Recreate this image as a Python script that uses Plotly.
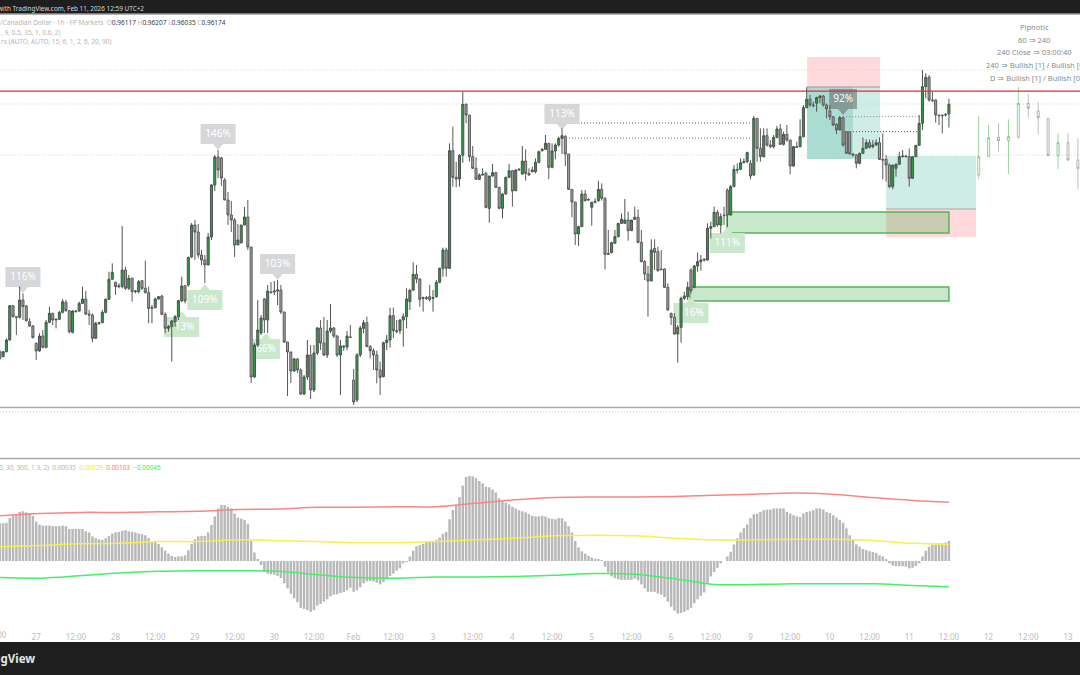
import plotly.graph_objects as go

# %% data, prices in points (1e-5)
open_pts = [94690,94660,94690,94760,94966,94900,94896,95000,94964,94870,94844,94740,94694,94784,94716,94866,94920,94880,94884,94926,
94986,94936,94806,94934,94934,94980,95006,94916,94910,94770,94860,94864,94926,95004,95124,95106,95080,95080,95180,95070,
95130,95050,95050,95116,95070,95044,94950,94954,95006,95024,94914,94830,94840,94870,94900,94994,95086,95090,95258,95450,
95408,95270,95240,95210,95378,95690,95858,95852,95720,95600,95510,95480,95330,95342,95450,95498,95318,94538,94730,94802,
95006,94880,95048,95048,95054,95060,94928,94748,94688,94574,94646,94580,94436,94538,94670,94460,94682,94832,94742,94670,
94814,94832,94784,94670,94724,94718,94778,94520,94400,94670,94830,94864,94720,94696,94670,94580,94540,94744,94760,94906,
94816,94816,94880,94900,94990,95060,95154,95126,95010,95014,95020,95010,95020,95106,95190,95300,95190,95896,95736,95726,
95868,96174,96110,95860,95790,95724,95750,95760,95550,95744,95764,95676,95550,95636,95736,95776,95656,95780,95756,95834,
95760,95770,95770,95826,95896,95904,95940,95796,95894,95930,95970,95980,95876,95664,95588,95396,95440,95636,95604,95556,
95586,95596,95664,95610,95280,95284,95340,95380,95460,95460,95480,95416,95484,95496,95346,95230,95156,95114,95310,95290,
95186,95186,95076,94920,94896,94796,94836,95010,95020,95180,95076,95204,95230,95240,95240,95430,95440,95526,95450,95510,
95660,95510,95680,95784,95784,95824,95830,95820,95750,96090,95910,95860,95986,95930,95920,95976,96026,95934,95994,95960,
95804,95920,95920,95980,96154,96204,96170,96180,96214,96224,96170,96134,96100,96054,96020,96094,96010,96010,95876,95870,
95820,95880,95910,95944,95920,95930,95944,95844,95844,95810,95680,95790,95814,95860,95864,95860,95730,95860,95928,96060,
96280,96336,96200,96200,96110,96110,96110,96117]
high_pts = [94700,94694,94770,94970,94970,94900,95080,95040,94970,94890,94850,94746,94800,94820,94880,94960,94924,94890,94934,95006,
95000,94940,94940,94940,94990,95080,95054,94940,94920,94870,94864,94940,95010,95170,95220,95110,95100,95444,95200,95150,
95134,95060,95120,95120,95236,95080,94970,95014,95024,95030,94926,94850,94880,94910,95000,95140,95090,95260,95462,95480,
95456,95300,95270,95402,95696,95870,95900,95858,95732,95648,95594,95492,95456,95450,95558,95600,95318,94742,95000,94910,
95012,95090,95108,95114,95120,95090,94928,94750,94690,94652,94652,94590,94550,94760,94730,94730,94838,94880,94898,94880,
94976,94838,94790,94760,94730,94814,94850,94586,94682,94844,94880,94900,94730,94710,94696,94630,94750,94790,94954,94954,
94880,94884,94920,95070,95060,95226,95210,95130,95020,95024,95090,95060,95120,95194,95314,95314,95940,96040,95830,95876,
96250,96180,96110,95924,95856,95760,95790,95770,95744,95816,95770,95676,95640,95740,95816,95780,95784,95790,95924,95904,
95790,95800,95850,95896,95910,95990,95940,95940,95940,95980,96030,95990,95876,95664,95588,95446,95660,95660,95610,95590,
95610,95716,95700,95616,95420,95350,95420,95460,95520,95606,95530,95480,95560,95544,95420,95240,95204,95364,95364,95320,
95300,95190,95100,94924,94920,94850,95020,95050,95110,95190,95210,95284,95270,95250,95460,95470,95560,95540,95520,95560,
95670,95690,95810,95820,95850,95850,95890,95840,96104,96090,96030,96030,96030,95960,95990,96044,96056,96010,96050,95960,
95924,95950,96084,96170,96276,96230,96190,96220,96230,96230,96180,96170,96104,96060,96104,96100,96014,96010,95880,95876,
95884,95976,95964,95964,95960,95964,95976,96000,95870,95820,95810,95820,95890,95900,95870,95910,95860,95930,96110,96380,
96360,96350,96250,96204,96110,96110,96120,96207]
low_pts = [94640,94660,94686,94756,94896,94790,94890,94880,94870,94840,94770,94640,94690,94710,94710,94860,94850,94830,94880,94920,
94930,94800,94800,94926,94930,94976,94910,94850,94746,94766,94850,94860,94920,95000,95120,95030,95070,95070,95060,95060,
94990,95040,95040,95060,95040,94860,94860,94950,95002,94910,94800,94810,94630,94840,94880,94990,94980,95080,95252,95240,
95252,95210,95102,95210,95360,95654,95732,95684,95600,95450,95408,95258,95330,95342,95450,95300,94502,94532,94718,94790,
94802,94802,95042,95030,94970,94916,94742,94424,94502,94568,94562,94430,94430,94520,94406,94448,94670,94700,94664,94652,
94802,94772,94658,94430,94694,94700,94772,94370,94388,94658,94800,94720,94650,94580,94500,94430,94536,94700,94714,94770,
94800,94796,94720,94830,94940,95054,95100,94960,94930,95000,94990,94930,95014,95100,95140,95140,95186,95680,95676,95680,
95824,96060,95830,95786,95720,95720,95746,95550,95464,95740,95672,95546,95490,95632,95732,95560,95654,95776,95750,95716,
95746,95766,95760,95820,95890,95900,95726,95790,95844,95920,95876,95804,95660,95496,95330,95324,95440,95590,95596,95446,
95580,95590,95596,95184,95270,95280,95340,95376,95456,95456,95356,95414,95480,95340,95226,95120,94900,95114,95180,95170,
95180,95072,94936,94850,94792,94624,94744,95000,95000,95040,95070,95170,95176,95230,95236,95370,95440,95440,95400,95450,
95440,95506,95680,95760,95780,95820,95820,95724,95744,95830,95830,95856,95920,95910,95910,95970,95930,95926,95950,95754,
95800,95916,95916,95976,96150,96160,96156,96130,96180,96160,96090,96080,96044,95996,96020,95920,95876,95874,95860,95790,
95814,95876,95906,95910,95910,95926,95840,95724,95710,95670,95664,95740,95810,95856,95856,95680,95726,95856,95924,96020,
96210,96190,96190,96064,96050,96000,96100,96035]
close_pts = [94650,94690,94760,94966,94900,94896,95000,94960,94876,94844,94774,94694,94784,94716,94866,94920,94880,94884,94926,94990,
94936,94810,94934,94930,94980,95006,94916,94910,94770,94860,94864,94926,95004,95124,95166,95080,95084,95180,95070,95130,
95050,95054,95110,95070,95044,94950,94954,95006,95020,94914,94830,94840,94874,94900,94996,95084,94994,95256,95450,95408,
95270,95240,95210,95378,95690,95858,95780,95732,95600,95510,95480,95330,95360,95450,95498,95318,94538,94730,94820,94892,
94880,95054,95044,95054,95060,94928,94748,94688,94574,94646,94580,94436,94538,94670,94460,94682,94832,94742,94670,94814,
94832,94784,94670,94724,94718,94784,94776,94388,94670,94832,94864,94720,94696,94670,94580,94536,94744,94760,94906,94816,
94810,94880,94900,95006,95060,95154,95126,95004,95014,95010,95004,95014,95106,95190,95300,95190,95896,95736,95726,95868,
96174,96110,95860,95790,95724,95750,95754,95556,95744,95764,95676,95550,95636,95736,95776,95654,95780,95784,95834,95760,
95750,95780,95826,95890,95904,95940,95796,95894,95930,95970,95986,95876,95664,95588,95396,95440,95636,95596,95600,95586,
95590,95664,95610,95274,95274,95344,95380,95460,95484,95480,95416,95480,95496,95346,95230,95156,95114,95300,95286,95176,
95182,95076,94940,94896,94796,94836,95010,95024,95076,95056,95204,95230,95240,95244,95430,95440,95526,95450,95500,95506,
95510,95680,95784,95780,95824,95830,95884,95744,96090,95910,95860,95986,95930,95920,95976,96026,95934,95994,95960,95804,
95920,95916,95980,96154,96204,96170,96166,96214,96224,96170,96146,96100,96050,96020,96094,95930,95880,95876,95870,95820,
95880,95910,95944,95916,95930,95944,95844,95840,95810,95680,95810,95814,95860,95864,95860,95730,95860,95928,96060,96280,
96336,96200,96196,96110,96106,96106,96114,96174]

# projected bars right of the last candle
ghost_up_x = [296, 299, 305, 308, 320]
ghost_up_open = [95750, 95860, 95956, 95976, 95866]
ghost_up_high = [96104, 96050, 96084, 96280, 96000]
ghost_up_low = [95724, 95860, 95756, 95970, 95786]
ghost_up_close = [95860, 95974, 95980, 96180, 95944]
ghost_dn_x = [302, 311, 314, 317, 323, 326]
ghost_dn_open = [95976, 96180, 96134, 96090, 95944, 95840]
ghost_dn_high = [96060, 96236, 96186, 96090, 96000, 95970]
ghost_dn_low = [95890, 96094, 95996, 95866, 95836, 95664]
ghost_dn_close = [95956, 96150, 96094, 95866, 95840, 95790]

# oscillator, in 1e-5
hist_vals = [66,66,67,75,79,82,86,87,85,83,79,69,64,62,62,62,61,61,61,62,61,56,56,56,56,56,52,50,43,40,38,37,40,44,48,50,51,53,54,52,
51,50,48,47,45,40,35,33,30,24,18,13,9,7,8,8,10,19,30,38,43,44,44,50,63,78,92,98,98,95,92,83,76,74,72,65,35,15,2,-7,
-19,-22,-23,-24,-26,-30,-39,-48,-57,-65,-72,-82,-84,-86,-89,-86,-78,-75,-71,-67,-62,-59,-58,-56,-54,-51,-47,-54,-51,-46,-39,-36,-35,-36,-38,-41,-37,-31,-26,-22,
-17,-13,-4,-1,8,18,26,28,30,33,34,35,37,41,48,51,73,89,98,112,132,147,149,148,145,140,136,130,129,125,120,110,105,102,99,95,92,89,87,85,
82,79,78,78,79,78,75,74,73,75,75,69,61,50,35,24,17,13,9,6,4,2,1,-10,-20,-27,-30,-32,-33,-33,-33,-33,-31,-34,-41,-48,-54,-54,-54,-57,
-59,-63,-71,-80,-87,-92,-91,-89,-86,-82,-74,-67,-61,-55,-39,-27,-19,-12,-4,0,8,16,29,40,50,58,64,75,82,83,86,89,90,90,92,92,92,92,86,83,
80,78,77,83,86,87,89,92,92,90,86,84,80,76,72,67,57,45,37,29,25,21,19,17,16,14,10,8,3,-4,-8,-9,-9,-9,-10,-13,-12,-9,-4,8,
18,25,28,31,31,31,32,35]
line_knots = [0,12,24,36,48,60,72,84,96,108,120,132,144,156,168,180,192,204,216,228,240,252,264,276,287]
upper_band = [79,83,85,85,86,87,90,91,94,94,95,95,101,107,111,112,112,113,115,117,119,117,111,106,103]
signal_line = [25,27,30,31,34,34,37,36,34,32,32,34,37,40,44,45,44,40,37,37,38,38,36,31,29]
lower_band = [-29,-30,-26,-21,-18,-17,-17,-18,-24,-29,-30,-28,-28,-27,-25,-22,-23,-31,-41,-41,-40,-40,-40,-43,-45]

# x axis
tick_bars = [11,23,35,47,59,71,83,95,107,119,131,143,155,167,179,191,203,215,227,239,251,263,275,287,299,311,323]
tick_labels = ["27","12:00","28","12:00","29","12:00","30","12:00","Feb","12:00","3","12:00","4","12:00","5","12:00",
               "6","12:00","9","12:00","10","12:00","11","12:00","12","12:00","13"]

# percent labels
up_label_bars = [7, 66, 84, 170, 255]
up_label_tips = [95042, 95900, 95120, 96020, 96110]
up_label_text = ["116%", "146%", "103%", "113%", "92%"]
dn_label_bars = [62, 55, 80.5, 220, 209]
dn_label_tips = [95096, 94934, 94802, 95438, 95018]
dn_label_text = ["109%", "113%", "66%", "111%", "116%"]

# %% helpers
W, H = 1080, 675
X_RANGE = [0.054, 326.64]

def py(y):
    return 1 - y / H

def px(x):
    return x / W

def p(v):
    return [a / 1e5 for a in v]

shapes = []
FINE_DOT = "1px,2px"

def band(y0, y1, color):
    shapes.append(dict(type="rect", xref="paper", yref="paper", x0=0, x1=1, y0=py(y0), y1=py(y1),
                       fillcolor=color, line_width=0, layer="below"))

def rule(y, color, dash="solid", width=1):
    shapes.append(dict(type="line", xref="paper", yref="paper", x0=0, x1=1, y0=py(y), y1=py(y),
                       line=dict(color=color, width=width, dash=dash), layer="above"))

def zone(x0, x1, y0, y1, fill, line=None):
    shapes.append(dict(type="rect", xref="x", yref="y", x0=x0, x1=x1, y0=y0 / 1e5, y1=y1 / 1e5, fillcolor=fill,
                       line=dict(color=line or fill, width=1.5 if line else 0), layer="below"))

def price_line(x0, x1, y, color, dash=FINE_DOT, width=1, layer="below"):
    shapes.append(dict(type="line", xref="x", yref="y", x0=x0, x1=x1, y0=y / 1e5, y1=y / 1e5,
                       line=dict(color=color, width=width, dash=dash), layer=layer))

def label_box(bar, tip, up, color, chars):
    # box sits 36 points off the pointer tip, 120 tall, width follows the text
    s = 1 if up else -1
    half = 5.3 if chars == 4 else 4.2
    near, far = tip + s * 36, tip + s * 156
    x0, x1 = bar - half, bar + half
    path = (f"M {x0},{near/1e5} L {bar-1.5},{near/1e5} L {bar},{tip/1e5} L {bar+1.5},{near/1e5} L {x1},{near/1e5} "
            f"L {x1},{far/1e5} L {x0},{far/1e5} Z")
    shapes.append(dict(type="path", xref="x", yref="y", path=path, fillcolor=color, line_width=0, layer="below"))
    return (tip + s * 96) / 1e5

# %% panes and zones
band(0, 14, "#1e1e1e")
band(642, 675, "#1e1e1e")

zone(244.1, 266.2, 96278, 96458, "rgba(255,82,96,0.22)")
zone(244.1, 266.2, 95846, 96278, "rgba(20,160,130,0.2)")
zone(244.1, 258, 95846, 96278, "rgba(20,160,130,0.2)")
zone(268, 295.2, 95546, 95864, "rgba(20,160,130,0.2)")
zone(268, 295.2, 95378, 95546, "rgba(255,82,96,0.22)")
zone(219.9, 287, 95402, 95528, "rgba(76,175,80,0.3)", "#55b45a")
zone(208.7, 287, 94994, 95078, "rgba(76,175,80,0.3)", "#55b45a")
price_line(244.1, 266.2, 96278, "#999999", "solid")
price_line(268, 295.2, 95546, "#aaaaaa", "solid")

price_line(0, 327, 96380, "#c9d8d0")
price_line(0, 327, 96176, "#b4e0ba")
price_line(0, 327, 95870, "#cfd6d2")
price_line(170.3, 227.5, 96062, "#555555")
price_line(170.3, 227.5, 95972, "#777777")
price_line(255, 278, 96100, "#888888")
price_line(258, 277.7, 96010, "#555555")
price_line(0, 327, 96253, "#e02840", "solid", 1.2, "above")

rule(14, "#9a9a9a", width=1.5)
rule(407.5, "#a8a8a8", width=1.5)
rule(412, "#cccccc", dash=FINE_DOT)
rule(458.5, "#a8a8a8", width=1.5)

text_x, text_y, text_s = [], [], []
for b, t, s in zip(up_label_bars, up_label_tips, up_label_text):
    col = "rgba(100,100,100,0.55)" if s == "92%" else "#d6d7d9"
    text_x.append(b); text_y.append(label_box(b, t, True, col, len(s))); text_s.append(s)
for b, t, s in zip(dn_label_bars, dn_label_tips, dn_label_text):
    text_x.append(b); text_y.append(label_box(b, t, False, "#cbe8cd", len(s))); text_s.append(s)

# %% traces
fig = go.Figure()
fig.add_trace(go.Scatter(x=text_x, y=text_y, mode="text", text=text_s, yaxis="y",
                         textfont=dict(family="Noto Sans", size=10, color="#ffffff")))

bars = list(range(len(close_pts)))
fig.add_trace(go.Candlestick(x=bars, open=p(open_pts), high=p(high_pts), low=p(low_pts), close=p(close_pts), yaxis="y3",
                             whiskerwidth=0,
                             increasing=dict(line=dict(color="#4a544d", width=1), fillcolor="#2f9e44"),
                             decreasing=dict(line=dict(color="#5a5a5a", width=1), fillcolor="#a3a3a3")))
fig.add_trace(go.Candlestick(x=ghost_up_x, open=p(ghost_up_open), high=p(ghost_up_high), low=p(ghost_up_low),
                             close=p(ghost_up_close), yaxis="y3", whiskerwidth=0,
                             increasing=dict(line=dict(color="rgba(76,175,80,0.55)", width=1), fillcolor="rgba(200,230,201,0.2)"),
                             decreasing=dict(line=dict(color="rgba(76,175,80,0.55)", width=1), fillcolor="rgba(200,230,201,0.2)")))
fig.add_trace(go.Candlestick(x=ghost_dn_x, open=p(ghost_dn_open), high=p(ghost_dn_high), low=p(ghost_dn_low),
                             close=p(ghost_dn_close), yaxis="y3", whiskerwidth=0,
                             increasing=dict(line=dict(color="rgba(110,110,110,0.45)", width=1), fillcolor="rgba(170,170,170,0.12)"),
                             decreasing=dict(line=dict(color="rgba(110,110,110,0.45)", width=1), fillcolor="rgba(170,170,170,0.12)")))

fig.add_trace(go.Bar(x=bars, y=[v / 1e5 for v in hist_vals], yaxis="y2", marker=dict(color="#b8b8b8", line_width=0)))
for vals, col in [(upper_band, "#f88686"), (signal_line, "#f7ef4a"), (lower_band, "#45f06a")]:
    fig.add_trace(go.Scatter(x=line_knots, y=[v / 1e5 for v in vals], mode="lines", yaxis="y2",
                             line=dict(color=col, width=1.5, shape="spline")))

# %% text
FONT = "Noto Sans"
GREY = "#b5b5b5"

def note(x, y, text, color=GREY, size=8, anchor="left"):
    return dict(xref="paper", yref="paper", x=px(x), y=py(y), text=text, showarrow=False, xanchor=anchor,
                yanchor="middle", font=dict(family=FONT, size=size, color=color))

def dark(s):
    return f'<span style="color:#3a3a3a">{s}</span>'

annots = [
    note(146, 8, "with TradingView.com, Feb 11, 2026 12:59 UTC+2", "#d8d8d8", 6.4, "right"),
    note(228, 22, "ar/Canadian Dollar · 1h · FP Markets  O" + dark("0.96117") + " H" + dark("0.96207")
         + " L" + dark("0.96035") + " C" + dark("0.96174"), GREY, 6.5, "right"),
    note(63, 32, ", 9, 0.5, 35, 1, 0.6, 2)", GREY, 6.5, "right"),
    note(113, 41, "rs (AUTO, AUTO, 15, 6, 1, 2, 6, 20, 90)", GREY, 6.5, "right"),
    note(163, 467, '0, 30, 300, 1.3, 2)  0.00035  <span style="color:#f2ea2e">0.00029</span>  '
         '<span style="color:#f77">0.00103</span>  <span style="color:#2ef05a">−0.00045</span>', GREY, 6.4, "right"),
    note(1034, 27, "Pipnotic", "#8a8a8a", 7.5, "center"),
    note(1034, 40, "60 ⇒ 240", "#8a8a8a", 7.5, "center"),
    note(1034, 52, "240 Close ⇒ 03:00:40", "#8a8a8a", 7.5, "center"),
    note(984, 65, "240 ⇒ Bullish [1] / Bullish [0]", "#8a8a8a", 7.5),
    note(988, 78, "D ⇒ Bullish [1] / Bullish [0]", "#8a8a8a", 7.5),
    note(37, 658, "<b>ngView</b>", "#e4e4e4", 11.5, "right"),
    note(-3.5, 634, "12:00", "#bdbdbd", 8, "center"),
]

# %% layout
main_range = [(96800 - 6 * 407) / 1e5, (96800 - 6 * 14) / 1e5]
fig.update_layout(
    width=W, height=H, margin=dict(l=0, r=0, t=0, b=0), autosize=False, showlegend=False,
    paper_bgcolor="#ffffff", plot_bgcolor="#ffffff", bargap=0.25, boxgap=0.12,
    shapes=shapes, annotations=annots,
    xaxis=dict(range=X_RANGE, domain=[0, 1], anchor="y2", rangeslider=dict(visible=False), showgrid=False, zeroline=False,
               showline=False, tickmode="array", tickvals=tick_bars, ticktext=tick_labels, ticks="outside", ticklen=3,
               tickcolor="#ffffff", tickangle=0, tickfont=dict(family=FONT, size=8, color="#bdbdbd")),
    yaxis=dict(domain=[py(407), py(14)], range=main_range, visible=False, anchor="x"),
    yaxis3=dict(overlaying="y", range=main_range, visible=False, anchor="x"),
    yaxis2=dict(domain=[py(626), py(459)], range=[-113.75e-5, 178.5e-5], visible=False, anchor="x"),
)

fig.write_html("out.html", config={"displayModeBar": False},
               post_script="document.body.style.margin='0';document.body.style.overflow='hidden';")
